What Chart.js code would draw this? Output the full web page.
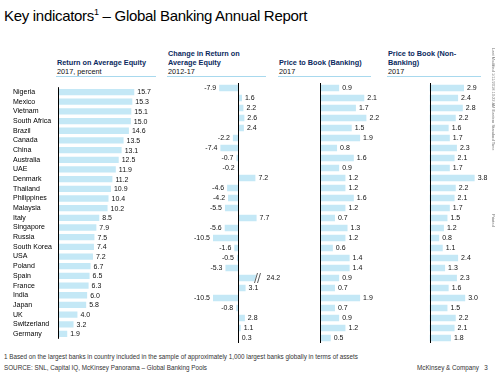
<!DOCTYPE html>
<html>
<head>
<meta charset="utf-8">
<script src="https://cdn.jsdelivr.net/npm/chart.js@4.4.1/dist/chart.umd.min.js"></script>
<style>
  body { margin: 0; width: 500px; height: 372px; background: #fff; position: relative; overflow: hidden;
         font-family: "Liberation Sans", Arial, sans-serif; color: #111; }
  .t { position: absolute; white-space: nowrap; }
  .title { left: 4px; top: 7px; font-size: 15px; color: #000; letter-spacing: -0.3px; }
  .title sup { font-size: 9px; vertical-align: 6px; line-height: 0; }
  .hd { font-size: 7.3px; line-height: 9px; }
  .hd b { color: #0b2a5e; }
  .rule { position: absolute; top: 76px; height: 1px; background: #a8d9ee; }
  .foot { font-size: 6.3px; color: #333; }
  .side { font-size: 4px; color: #777; transform-origin: 0 0; transform: rotate(90deg); }
  canvas { position: absolute; top: 83px; }
</style>
</head>
<body>
<div class="t title">Key indicators<sup>1</sup> – Global Banking Annual Report</div>

<div class="t hd" style="left:57px;top:58px"><b>Return on Average Equity</b><br>2017, percent</div>
<div class="t hd" style="left:168px;top:49px"><b>Change in Return on<br>Average Equity</b><br>2012-17</div>
<div class="t hd" style="left:279px;top:58px"><b>Price to Book (Banking)</b><br>2017</div>
<div class="t hd" style="left:388px;top:49px"><b>Price to Book (Non-<br>Banking)</b><br>2017</div>
<div class="rule" style="left:56px;width:100px"></div>
<div class="rule" style="left:167px;width:99px"></div>
<div class="rule" style="left:278px;width:93px"></div>
<div class="rule" style="left:387px;width:94px"></div>

<canvas id="c1" width="160" height="260" style="left:0"></canvas>
<canvas id="c2" width="132" height="260" style="left:150px"></canvas>
<canvas id="c3" width="111" height="260" style="left:269px"></canvas>
<canvas id="c4" width="110" height="260" style="left:380px"></canvas>

<div class="t foot" style="left:4px;top:353px">1 Based on the largest banks in country included in the sample of approximately 1,000 largest banks globally in terms of assets</div>
<div class="t foot" style="left:4px;top:364px">SOURCE: SNL, Capital IQ, McKinsey Panorama – Global Banking Pools</div>
<div class="t foot" style="left:417px;top:364px">McKinsey &amp; Company &nbsp;&nbsp;3</div>
<div class="t side" style="left:496px;top:48px">Last Modified 1/11/2018 10:22 AM Eastern Standard Time</div>
<div class="t side" style="left:496px;top:214px">Printed</div>

<script>
const countries = ["Nigeria", "Mexico", "Vietnam", "South Africa", "Brazil", "Canada", "China", "Australia",
  "UAE", "Denmark", "Thailand", "Philippines", "Malaysia", "Italy", "Singapore", "Russia", "South Korea",
  "USA", "Poland", "Spain", "France", "India", "Japan", "UK", "Switzerland", "Germany"];
const roe2017 = [15.7, 15.3, 15.1, 15.0, 14.6, 13.5, 13.1, 12.5, 11.9, 11.2, 10.9, 10.4, 10.2, 8.5, 7.9,
  7.5, 7.4, 7.2, 6.7, 6.5, 6.3, 6.0, 5.8, 4.0, 3.2, 1.9];
const roeChange = [-7.9, 1.6, 2.2, 2.6, 2.4, -2.2, -7.4, -0.7, -0.2, 7.2, -4.6, -4.2, -5.5, 7.7, -5.6,
  -10.5, -1.6, -0.5, -5.3, 24.2, 3.1, -10.5, -0.8, 2.8, 1.1, 0.3];
const pbBanking = [0.9, 2.1, 1.7, 2.2, 1.5, 1.9, 0.8, 1.6, 0.9, 1.2, 1.2, 1.6, 1.2, 0.7, 1.3, 1.2, 0.6,
  1.4, 1.4, 0.9, 0.7, 1.9, 0.7, 0.9, 1.2, 0.5];
const pbNonBanking = [2.9, 2.4, 2.8, 2.2, 1.6, 1.7, 2.3, 2.1, 1.7, 3.8, 2.2, 2.1, 1.7, 1.5, 1.2, 0.8, 1.1,
  2.4, 1.3, 2.3, 1.6, 3.0, 1.5, 2.2, 2.1, 1.8];

// change bars past this value get cut with a break mark (Spain)
const CHANGE_CLIP = 8.5;

const BAR = '#c4e8f6';

const barExtras = {
  id: 'barExtras',
  afterDatasetsDraw(chart) {
    const ctx = chart.ctx;
    const area = chart.chartArea;
    const x = chart.scales.x;
    const opts = chart.options.plugins.barExtras;
    const raw = opts.values;
    const clip = opts.clip;
    // zero line
    const zx = Math.round(x.getPixelForValue(0)) + 0.5;
    ctx.save();
    ctx.strokeStyle = '#000';
    ctx.lineWidth = 1;
    ctx.beginPath();
    ctx.moveTo(zx, area.top);
    ctx.lineTo(zx, area.bottom);
    ctx.stroke();

    ctx.font = '7px "Liberation Sans", Arial, sans-serif';
    ctx.fillStyle = '#111';
    ctx.textBaseline = 'middle';
    chart.getDatasetMeta(0).data.forEach((bar, i) => {
      const v = raw[i];
      let lx = bar.x;
      if (clip != null && v > clip) {
        // break mark
        ctx.strokeStyle = '#fff';
        ctx.lineWidth = 3;
        ctx.beginPath();
        ctx.moveTo(lx - 3, bar.y + 5); ctx.lineTo(lx, bar.y - 5);
        ctx.stroke();
        ctx.strokeStyle = '#333';
        ctx.lineWidth = 0.8;
        ctx.beginPath();
        ctx.moveTo(lx - 4, bar.y + 5); ctx.lineTo(lx - 1, bar.y - 5);
        ctx.moveTo(lx - 1, bar.y + 5); ctx.lineTo(lx + 2, bar.y - 5);
        ctx.stroke();
        lx += 5;
      }
      if (v < 0) {
        ctx.textAlign = 'right';
        ctx.fillText(v.toFixed(1), lx - 3, bar.y + 0.5);
      } else {
        ctx.textAlign = 'left';
        ctx.fillText(v.toFixed(1), lx + 3, bar.y + 0.5);
      }
    });
    ctx.restore();
  }
};

function makeChart(id, values, shown, min, max, withLabels, clip) {
  return new Chart(document.getElementById(id), {
    type: 'bar',
    data: {
      labels: countries,
      datasets: [{
        data: shown,
        backgroundColor: BAR,
        borderWidth: 0,
        barPercentage: 0.65,
        categoryPercentage: 1
      }]
    },
    options: {
      indexAxis: 'y',
      responsive: false,
      animation: false,
      layout: { padding: { left: withLabels ? 13 : 0, right: 0, top: 0, bottom: 0 } },
      scales: {
        x: { type: 'linear', min: min, max: max, display: false },
        y: {
          display: withLabels,
          grid: { display: false },
          border: { display: false },
          ticks: {
            autoSkip: false,
            crossAlign: 'far',
            padding: 0,
            color: '#000',
            font: { family: '"Liberation Sans", Arial, sans-serif', size: 7 }
          },
          afterFit: (scale) => { scale.width = 45; }
        }
      },
      plugins: {
        legend: { display: false },
        tooltip: { enabled: false },
        barExtras: { values: values, clip: clip }
      }
    },
    plugins: [barExtras]
  });
}

makeChart('c1', roe2017, roe2017, 0, 21, true, null);
// 132px wide canvas: -18..18.3 keeps zero at ~215px on the page
makeChart('c2', roeChange, roeChange.map(v => Math.min(v, CHANGE_CLIP)), -18, 18.3, false, CHANGE_CLIP);
makeChart('c3', pbBanking, pbBanking, -0.3, 2.85, false, null);
makeChart('c4', pbNonBanking, pbNonBanking, -0.4, 5.1, false, null);
</script>
</body>
</html>
